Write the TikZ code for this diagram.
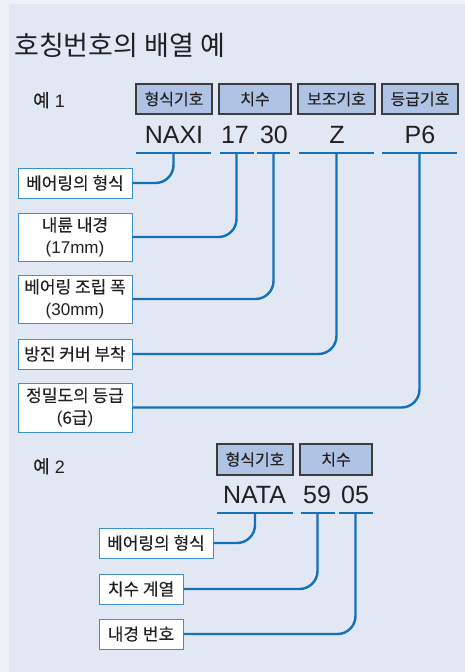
\documentclass[tikz,border=0pt]{standalone}
\usepackage{fontspec}
\setmainfont{Liberation Sans}
\newfontfamily\kr[FakeBold=0.15]{Noto Sans CJK KR}
\newfontfamily\krtitle{Noto Sans CJK KR}
\definecolor{outerbg}{HTML}{EDF2F9}
\definecolor{innerbg}{HTML}{E1E8F4}
\definecolor{hdrfill}{HTML}{AFC4E5}
\definecolor{hdrline}{HTML}{3C3C3C}
\definecolor{lineblue}{HTML}{1570B8}
\definecolor{boxblue}{HTML}{3D8FD0}
\definecolor{txt}{HTML}{231F20}
\tikzset{
  hdr/.style={draw=hdrline, line width=1.1pt, fill=hdrfill, minimum height=30pt, inner sep=0pt,
    font=\kr\fontsize{16}{18}\selectfont, text=txt},
  code/.style={font=\fontsize{25}{28}\selectfont, text=txt, inner sep=0pt, anchor=base},
  lbl/.style={draw=boxblue, line width=1pt, fill=white, inner sep=0pt, align=center,
    font=\fontsize{17}{22}\selectfont, text=txt},
  ul/.style={fill=lineblue, minimum height=2.6pt, inner sep=0pt, outer sep=0pt},
  conn/.style={draw=lineblue, line width=2.4pt, rounded corners=18pt},
  plain/.style={text=txt, inner sep=0pt},
}
\begin{document}
\begin{tikzpicture}[x=1pt,y=-1pt]
\useasboundingbox (0,0) rectangle (465,672);
\fill[outerbg] (0,0) rectangle (465,672);
\fill[innerbg] (9,4) rectangle (465,672);

% title
\node[plain, anchor=base west, font=\krtitle\fontsize{27}{30}\selectfont] (title) at (14,55) {호칭번호의 배열 예};

% ---------- example 1
\node[plain, anchor=base west, font=\fontsize{18}{20}\selectfont] (ex1) at (33,107) {{\kr 예} 1};
\node[hdr, minimum width=76pt] (h1) at (174,99) {형식기호};
\node[hdr, minimum width=72pt] (h2) at (255,99) {치수};
\node[hdr, minimum width=77pt] (h3) at (336.5,99) {보조기호};
\node[hdr, minimum width=76pt] (h4) at (420,99) {등급기호};

\node[code] (c1) at (174,143) {NAXI};
\node[code] (c2) at (235,143) {17};
\node[code] (c3) at (274,143) {30};
\node[code] (c4) at (337,143) {Z};
\node[code] (c5) at (420,143) {P6};

\node[ul, minimum width=75pt] (u1) at (173.5,153) {};
\node[ul, minimum width=34pt] (u2) at (236.5,153) {};
\node[ul, minimum width=33pt] (u3) at (273.5,153) {};
\node[ul, minimum width=75pt] (u4) at (336.5,153) {};
\node[ul, minimum width=75pt] (u5) at (419.5,153) {};

\node[lbl, minimum width=114pt, minimum height=30pt] (b1) at (75,183) {\kr 베어링의 형식};
\node[lbl, minimum width=114pt, minimum height=48pt] (b2) at (75,237) {{\kr 내륜 내경}\\(17mm)};
\node[lbl, minimum width=114pt, minimum height=48pt] (b3) at (75,299) {{\kr 베어링 조립 폭}\\(30mm)};
\node[lbl, minimum width=114pt, minimum height=30pt] (b4) at (75,354) {\kr 방진 커버 부착};
\node[lbl, minimum width=114pt, minimum height=49pt] (b5) at (75,407.5) {{\kr 정밀도의 등급}\\({\kr 6급})};

\draw[conn] (u1.center) |- (b1.east);
\draw[conn] (u2.center) |- (b2.east);
\draw[conn] (u3.center) |- (b3.east);
\draw[conn] (u4.center) |- (b4.east);
\draw[conn] (u5.center) |- (b5.east);

% ---------- example 2
\node[plain, anchor=base west, font=\fontsize{18}{20}\selectfont] (ex2) at (33,473) {{\kr 예} 2};
\node[hdr, minimum width=76pt, minimum height=31pt] (h5) at (255,459.5) {형식기호};
\node[hdr, minimum width=72pt, minimum height=31pt] (h6) at (336,459.5) {치수};

\node[code] (c6) at (254.5,503) {NATA};
\node[code] (c7) at (317,503) {59};
\node[code] (c8) at (355,503) {05};

\node[ul, minimum width=76pt] (u6) at (255,513) {};
\node[ul, minimum width=34pt] (u7) at (317.5,513) {};
\node[ul, minimum width=34pt] (u8) at (355.5,513) {};

\node[lbl, minimum width=114pt, minimum height=30pt] (b6) at (156,543) {\kr 베어링의 형식};
\node[lbl, minimum width=84pt, minimum height=30pt] (b7) at (141,589) {\kr 치수 계열};
\node[lbl, minimum width=84pt, minimum height=30pt] (b8) at (141,634) {\kr 내경 번호};

\draw[conn] (u6.center) |- (b6.east);
\draw[conn] (u7.center) |- (b7.east);
\draw[conn] (u8.center) |- (b8.east);
\end{tikzpicture}
\end{document}
